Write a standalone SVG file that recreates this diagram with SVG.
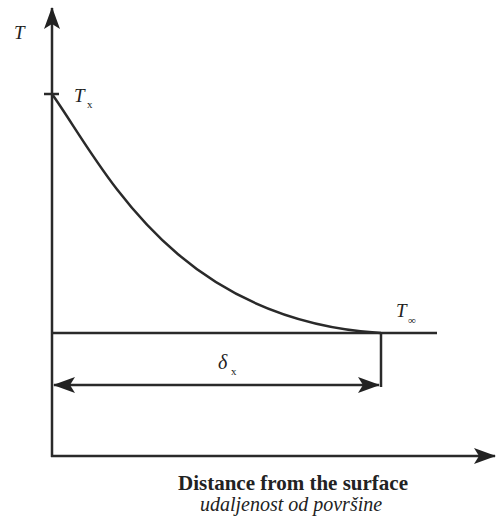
<svg xmlns="http://www.w3.org/2000/svg" width="497" height="517" viewBox="0 0 497 517">
<style>
.ln{stroke:#2a2a2a;stroke-width:2.5;fill:none}
.it{font-family:"Liberation Serif","Times New Roman","DejaVu Serif",serif;font-style:italic;fill:#222}
.sub{font-family:"Liberation Serif","Times New Roman","DejaVu Serif",serif;fill:#222;font-size:11px}
.bd{font-family:"Liberation Serif","Times New Roman","DejaVu Serif",serif;font-weight:bold;fill:#222}
</style>
<defs>
<marker id="big" markerWidth="22" markerHeight="16" refX="21" refY="8" orient="auto-start-reverse" markerUnits="userSpaceOnUse" viewBox="0 0 22 16">
<path d="M0,0 L22,8 L0,16 L5,8 Z" fill="#222"/>
</marker>
</defs>
<rect width="497" height="517" fill="#fff"/>
<g id="connectors">
<line id="yaxis" class="ln" x1="52" y1="457" x2="52" y2="8" marker-end="url(#big)"/>
<line id="xaxis" class="ln" x1="51" y1="456" x2="495" y2="456" marker-end="url(#big)"/>
<line id="tick" class="ln" x1="44" y1="94" x2="59" y2="94"/>
<path id="curve" class="ln" d="M52,94 C103,166 173,320 381,333"/>
<line id="baseline" class="ln" x1="52" y1="333" x2="437" y2="333"/>
<line id="vline" class="ln" x1="381" y1="333" x2="381" y2="387"/>
<line id="delta" class="ln" x1="54" y1="385" x2="379" y2="385" marker-start="url(#big)" marker-end="url(#big)"/>
</g>
<g id="label-T"><text class="it" x="14" y="39" font-size="19">T</text></g>
<g id="label-Tx"><text class="it" x="74" y="102" font-size="19">T</text><text class="sub" x="87" y="108">x</text></g>
<g id="label-Tinf"><text class="it" x="396" y="317" font-size="19">T</text><text class="sub" x="408" y="324">∞</text></g>
<g id="label-delta"><text class="it" x="218" y="369" font-size="20">δ</text><text class="sub" x="231" y="375">x</text></g>
<g id="xlabel">
<text x="293" y="490" text-anchor="middle" class="bd" font-size="21">Distance from the surface</text>
<text x="291" y="511" text-anchor="middle" class="it" font-size="20">udaljenost od površine</text>
</g>
</svg>
